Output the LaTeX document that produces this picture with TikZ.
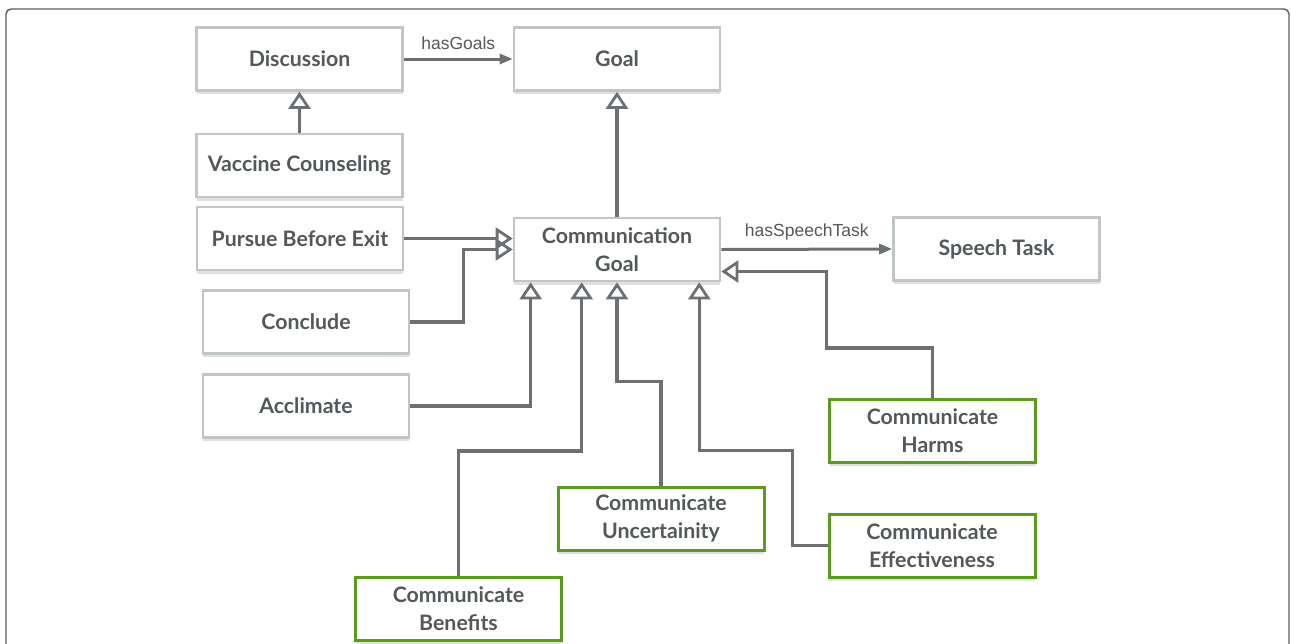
\documentclass[tikz,border=0pt]{standalone}
\usepackage{fontspec}
\setmainfont{Lato}
\newfontfamily\labelfont{Liberation Sans}
\usetikzlibrary{arrows.meta,shadows,calc}
\definecolor{txtc}{HTML}{53585B}
\definecolor{linec}{HTML}{6D7073}
\definecolor{boxc}{HTML}{C0C5C6}
\definecolor{greenc}{HTML}{5B9B1D}
\definecolor{framec}{HTML}{5A5A5A}
\tikzset{
  box/.style={draw=boxc, line width=2.6pt, fill=white, minimum width=206pt, minimum height=63pt,
    inner sep=0pt, align=center, text=txtc, font=\fontsize{21.3}{28}\selectfont\bfseries,
    drop shadow={shadow xshift=0pt, shadow yshift=-3.5pt, fill=black!12, opacity=1}},
  gbox/.style={box, draw=greenc, line width=3pt},
  conn/.style={draw=linec, line width=3.2pt},
  gen/.style={conn, -{Triangle[open, length=17pt, width=22pt, line width=2.8pt]}},
  rel/.style={conn, line width=3pt, -{Triangle[length=13pt, width=10pt]}},
  lbl/.style={text=txtc, font=\labelfont\fontsize{17.5}{20}\selectfont},
}
\begin{document}
\begin{tikzpicture}[x=1pt, y=-1pt]
\useasboundingbox (0,0) rectangle (1292,643);
\draw[framec, line width=1.4pt, rounded corners=5pt] (6,660) -- (6,9) -- (1289,9) -- (1289,660);

\node[box] (disc) at (299.5,59) {Discussion};
\node[box] (goal) at (617,59) {Goal};
\node[box] (vac) at (299.5,165.5) {Vaccine Counseling};
\node[box] (pbe) at (300,238.5) {Pursue Before Exit};
\node[box] (cg) at (617,249.5) {Communication\\Goal};
\node[box] (st) at (996.5,249) {Speech Task};
\node[box] (conc) at (306,322) {Conclude};
\node[box] (accl) at (306,406) {Acclimate};
\node[gbox] (harm) at (932.5,431) {Communicate\\Harms};
\node[gbox] (unc) at (661,518.5) {Communicate\\Uncertainity};
\node[gbox] (eff) at (932,545.5) {Communicate\\Effectiveness};
\node[gbox] (ben) at (458.5,609) {Communicate\\Benefits};

\draw[rel] (disc.east) -- node[lbl, midway, above=4pt] (lg) {hasGoals} (goal.west);
\draw[rel] (cg.east) -- node[lbl, midway, above=4pt] (ls) {hasSpeechTask} (st.west);

\draw[gen] (vac.north) -- (disc.south);
\draw[gen] (cg.north) -- (goal.south);
\draw[gen] (pbe.east) -- (pbe.east -| cg.west);
\draw[gen] (conc.east) -- ++(53,0) |- (cg.west);
\draw[gen] (accl.east) -| ($(cg.south west)+(18,0)$);
\draw[gen] (ben.north) -- ++(0,-125) -| ($(cg.south west)+(69,0)$);
\draw[gen] (unc.north) -- ++(0,-104) -| (cg.south);
\draw[gen] (eff.west) -- ++(-35,0) -- ++(0,-95) -| ($(cg.south east)+(-22,0)$);
\draw[gen] (harm.north) -- ++(0,-50) -- ++(-106,0) |- ($(cg.east)+(0,22)$);
\end{tikzpicture}
\end{document}
